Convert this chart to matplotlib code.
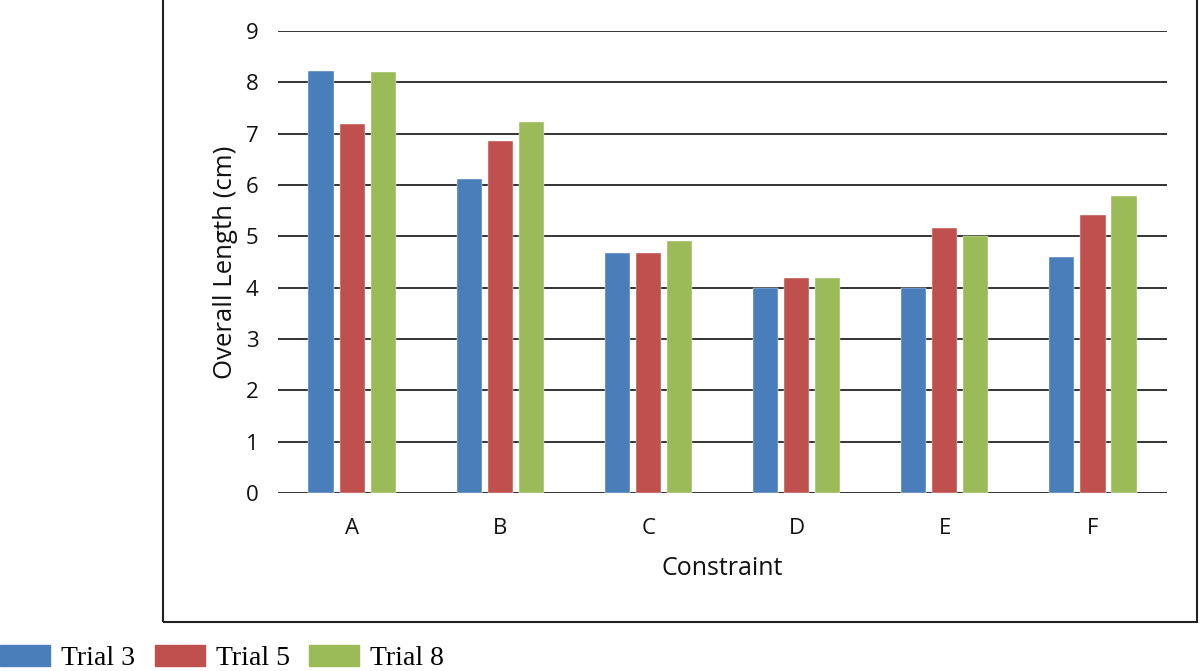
import matplotlib.pyplot as plt
import matplotlib.patches as mpatches
import numpy as np

categories = ["A", "B", "C", "D", "E", "F"]
trial3 = [8.23, 6.12, 4.68, 4.0, 4.0, 4.6]
trial5 = [7.19, 6.86, 4.68, 4.19, 5.16, 5.42]
trial8 = [8.2, 7.23, 4.9, 4.19, 5.0, 5.79]
series_names = ["Trial 3", "Trial 5", "Trial 8"]
colors = ["#4A7EBB", "#C0504D", "#9BBB59"]

plt.rcParams["font.family"] = ["Open Sans", "DejaVu Sans"]


def main():
    fig = plt.figure(figsize=(12, 6.71), dpi=100)
    ax = fig.add_axes([0.2317, 0.2653, 0.9725 - 0.2317, 0.9538 - 0.2653])

    x = np.arange(len(categories))
    width = 0.17
    offsets = [-0.21, 0.0, 0.21]
    for vals, off, col, name in zip([trial3, trial5, trial8], offsets, colors, series_names):
        ax.bar(x + off, vals, width, color=col, label=name, zorder=3,
               edgecolor="white", linewidth=0.3)

    ax.set_xlim(-0.5, len(categories) - 0.5)
    ax.set_ylim(0, 9)
    ax.set_yticks(range(10))
    ax.set_xticks(x)
    ax.set_xticklabels(categories)

    ax.grid(True, axis="y", color="#333333", linewidth=1.4, zorder=1)
    ax.grid(False, axis="x")
    for spine in ax.spines.values():
        spine.set_visible(False)
    ax.tick_params(axis="both", length=0, labelsize=16, colors="#111111")
    ax.tick_params(axis="y", pad=14)
    ax.tick_params(axis="x", pad=18)

    ax.set_ylabel("Overall Length (cm)", fontsize=18.5, labelpad=6, color="#111111")
    ax.set_xlabel("Constraint", fontsize=18, labelpad=12, color="#111111")

    frame = mpatches.Rectangle((0.1358, 0.073), 0.9975 - 0.1358, 1.0, transform=fig.transFigure,
                               fill=False, edgecolor="#222222", linewidth=1.5)
    fig.patches.append(frame)

    handles = [mpatches.Patch(color=c, label=n) for c, n in zip(colors, series_names)]
    fig.legend(handles=handles, loc="center left", bbox_to_anchor=(0.0, 0.019),
               ncol=3, frameon=False, borderaxespad=0, borderpad=0,
               prop={"family": "Liberation Serif", "size": 20},
               handlelength=1.8, handleheight=0.8, handletextpad=0.4,
               columnspacing=0.7)

    fig.savefig("out.png", dpi=100)


if __name__ == "__main__":
    main()
